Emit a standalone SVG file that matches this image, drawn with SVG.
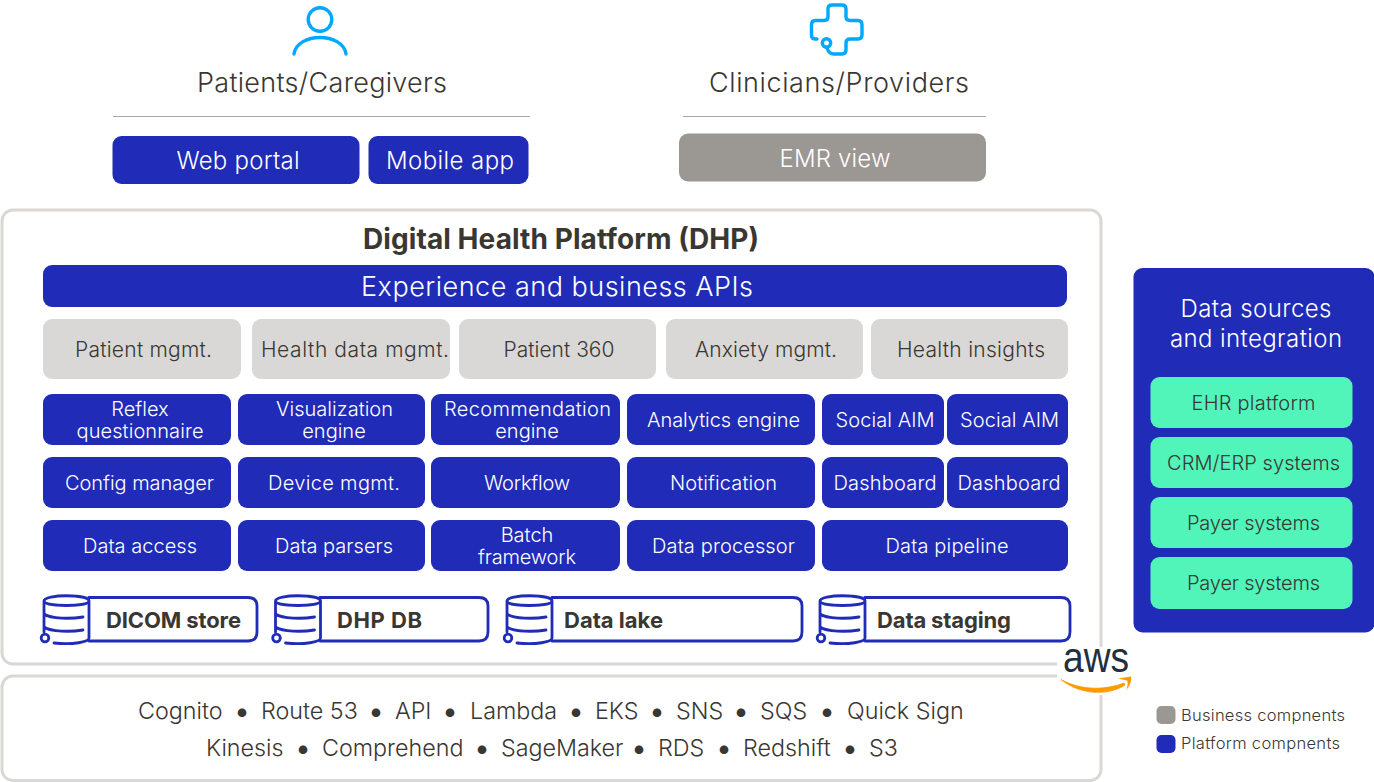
<svg xmlns="http://www.w3.org/2000/svg" width="1374" height="782" viewBox="0 0 1374 782">
<style>
text{font-family:"Inter","Liberation Sans",sans-serif;text-anchor:middle;font-size:20px;font-weight:350}
.b{fill:#202bb8}.g{fill:#9b9793}.l{fill:#d9d8d6}.m{fill:#52f5b9}
.w{fill:#fff}
.t{fill:#fff}.dk{fill:#3a3632}
.h{fill:#3a3632;font-size:27px}
.s{fill:#3a3632;font-size:23.300px;text-anchor:start}
.bu{text-anchor:middle;font-size:32px}
.bold{fill:#3a3632;font-weight:700;font-size:22px;text-anchor:start}
.fr{fill:#fff;stroke:#d9d8d6;stroke-width:3}
.ic{fill:none;stroke:#00a8ff;stroke-width:3.400;stroke-linecap:round;stroke-linejoin:round}
.db{fill:none;stroke:#202bb8;stroke-width:2.800;stroke-linecap:round}
.rule{stroke:#a9a6a3;stroke-width:1.200}
</style>
<defs>
<g id="cyl">
<path class="db" d="M1 6C1 -1 46 -1 46 6C46 12 1 12 1 6V37M46 6V43C46 47 30 50 11 48M1 19C8 24 28 24 40 22M1 32C8 37 28 37 40 35"/>
<circle class="db" cx="2" cy="43" r="3.800"/>
</g>
</defs>
<g id="connectors"></g>
<g id="patients">
<circle class="ic" cx="320" cy="19.500" r="11.800"/>
<path class="ic" d="M294 54C297 32 343 32 346 54"/>
<text class="h" x="322" y="92" textLength="250">Patients/Caregivers</text>
<line class="rule" x1="113" y1="116.500" x2="530" y2="116.500"/>
</g>
<g id="clinicians">
<path class="ic" d="M817 39H815Q811.500 39 811.500 35V25Q811.500 20.500 815 20.500H824Q828 20.500 828 17V8.500Q828 5 832 5H842Q846 5 846 9V17Q846 20.500 850 20.500H858Q862 20.500 862 25V35Q862 39 858 39H850Q846 39 846 43V50Q846 54 842 54H834Q829 54 827 48"/>
<circle class="ic" cx="826.500" cy="43" r="4.200"/>
<text class="h" x="839" y="92" textLength="260">Clinicians/Providers</text>
<line class="rule" x1="683" y1="116.500" x2="986" y2="116.500"/>
</g>
<g id="web-portal"><rect class="b" x="112.500" y="136" width="247" height="48" rx="9"/><text class="t" style="font-size:24px" x="238" y="169" textLength="123">Web portal</text></g>
<g id="mobile-app"><rect class="b" x="368.500" y="136" width="160" height="48" rx="9"/><text class="t" style="font-size:24px" x="450" y="169" textLength="128">Mobile app</text></g>
<g id="emr-view"><rect class="g" x="679" y="133.500" width="307" height="48" rx="9"/><text class="t" style="font-size:24px" x="835" y="167" textLength="111">EMR view</text></g>
<g id="dhp"><rect class="fr" x="2" y="210" width="1099" height="454" rx="11"/><text style="font-weight:700;font-size:28px;fill:#3a3632" x="561" y="248.500" textLength="396">Digital Health Platform (DHP)</text></g>
<g id="apis"><rect class="b" x="43" y="265" width="1024" height="42" rx="9"/><text class="t" style="font-size:27px" x="557" y="296" textLength="392">Experience and business APIs</text></g>
<g id="n-patient-mgmt"><rect class="l" x="43" y="319" width="198" height="60" rx="9"/><text class="dk" style="font-size:21px" x="143.500" y="357" textLength="137">Patient mgmt.</text></g>
<g id="n-health-data"><rect class="l" x="252" y="319" width="198" height="60" rx="9"/><text class="dk" style="font-size:21px" x="355" y="357" textLength="188">Health data mgmt.</text></g>
<g id="n-patient-360"><rect class="l" x="459" y="319" width="197" height="60" rx="9"/><text class="dk" style="font-size:21px" x="559" y="357" textLength="111">Patient 360</text></g>
<g id="n-anxiety"><rect class="l" x="666" y="319" width="197" height="60" rx="9"/><text class="dk" style="font-size:21px" x="766" y="357" textLength="142">Anxiety mgmt.</text></g>
<g id="n-insights"><rect class="l" x="871" y="319" width="197" height="60" rx="9"/><text class="dk" style="font-size:21px" x="971" y="357" textLength="148">Health insights</text></g>
<g id="n-reflex"><rect class="b" x="43" y="394" width="188" height="51" rx="9"/><text class="t" x="140" y="416">Reflex</text><text class="t" x="140" y="438" textLength="127">questionnaire</text></g>
<g id="n-viz"><rect class="b" x="238" y="394" width="187" height="51" rx="9"/><text class="t" x="334.500" y="416" textLength="117">Visualization</text><text class="t" x="334" y="438">engine</text></g>
<g id="n-rec"><rect class="b" x="431" y="394" width="189" height="51" rx="9"/><text class="t" x="527.500" y="416" textLength="167">Recommendation</text><text class="t" x="527" y="438">engine</text></g>
<g id="n-analytics"><rect class="b" x="627" y="394" width="188" height="51" rx="9"/><text class="t" x="723.500" y="427" textLength="153">Analytics engine</text></g>
<g id="n-social1"><rect class="b" x="822" y="394" width="122" height="51" rx="9"/><text class="t" x="885" y="427" textLength="99">Social AIM</text></g>
<g id="n-social2"><rect class="b" x="947" y="394" width="121" height="51" rx="9"/><text class="t" x="1009.500" y="427" textLength="99">Social AIM</text></g>
<g id="n-config"><rect class="b" x="43" y="457" width="188" height="51" rx="9"/><text class="t" x="139.500" y="490" textLength="149">Config manager</text></g>
<g id="n-device"><rect class="b" x="238" y="457" width="187" height="51" rx="9"/><text class="t" x="334" y="490" textLength="132">Device mgmt.</text></g>
<g id="n-workflow"><rect class="b" x="431" y="457" width="189" height="51" rx="9"/><text class="t" x="527" y="490" textLength="86">Workflow</text></g>
<g id="n-notification"><rect class="b" x="627" y="457" width="188" height="51" rx="9"/><text class="t" x="723.500" y="490" textLength="107">Notification</text></g>
<g id="n-dash1"><rect class="b" x="822" y="457" width="122" height="51" rx="9"/><text class="t" x="885" y="490" textLength="103">Dashboard</text></g>
<g id="n-dash2"><rect class="b" x="947" y="457" width="121" height="51" rx="9"/><text class="t" x="1009" y="490" textLength="103">Dashboard</text></g>
<g id="n-access"><rect class="b" x="43" y="520" width="188" height="51" rx="9"/><text class="t" x="140" y="553" textLength="114">Data access</text></g>
<g id="n-parsers"><rect class="b" x="238" y="520" width="187" height="51" rx="9"/><text class="t" x="334" y="553" textLength="118">Data parsers</text></g>
<g id="n-batch"><rect class="b" x="431" y="520" width="189" height="51" rx="9"/><text class="t" x="527" y="542">Batch</text><text class="t" x="527" y="564" textLength="98">framework</text></g>
<g id="n-processor"><rect class="b" x="627" y="520" width="188" height="51" rx="9"/><text class="t" x="723.500" y="553" textLength="143">Data processor</text></g>
<g id="n-pipeline"><rect class="b" x="822" y="520" width="246" height="51" rx="9"/><text class="t" x="947" y="553" textLength="123">Data pipeline</text></g>
<g id="s-dicom"><path class="db" d="M89 597.500H248Q257 597.500 257 606V632Q257 641 248 641H89"/><use href="#cyl" transform="translate(43 595)"/><text class="bold" x="106" y="628" textLength="135">DICOM store</text></g>
<g id="s-dhp"><path class="db" d="M320 597.500H479Q488 597.500 488 606V632Q488 641 479 641H320"/><use href="#cyl" transform="translate(274.500 595)"/><text class="bold" x="337" y="628" textLength="85">DHP DB</text></g>
<g id="s-lake"><path class="db" d="M552 597.500H793Q802 597.500 802 606V632Q802 641 793 641H552"/><use href="#cyl" transform="translate(506 595)"/><text class="bold" x="564" y="628" textLength="99">Data lake</text></g>
<g id="s-staging"><path class="db" d="M865 597.500H1061Q1070 597.500 1070 606V632Q1070 641 1061 641H865"/><use href="#cyl" transform="translate(819 595)"/><text class="bold" x="877" y="628" textLength="134">Data staging</text></g>
<g id="aws-services"><rect class="fr" x="2" y="676" width="1099" height="104.500" rx="11"/>
<text class="s"><tspan x="138" y="719">Cognito</tspan><tspan class="bu" x="242" y="722">•</tspan><tspan x="261" y="719">Route 53</tspan><tspan class="bu" x="376" y="722">•</tspan><tspan x="395" y="719">API</tspan><tspan class="bu" x="450" y="722">•</tspan><tspan x="470" y="719">Lambda</tspan><tspan class="bu" x="576" y="722">•</tspan><tspan x="595" y="719">EKS</tspan><tspan class="bu" x="657" y="722">•</tspan><tspan x="676" y="719">SNS</tspan><tspan class="bu" x="741" y="722">•</tspan><tspan x="760" y="719">SQS</tspan><tspan class="bu" x="827" y="722">•</tspan><tspan x="847" y="719">Quick Sign</tspan></text>
<text class="s"><tspan x="206" y="756">Kinesis</tspan><tspan class="bu" x="303" y="759">•</tspan><tspan x="322" y="756">Comprehend</tspan><tspan class="bu" x="482" y="759">•</tspan><tspan x="501" y="756">SageMaker</tspan><tspan class="bu" x="639" y="759">•</tspan><tspan x="658" y="756">RDS</tspan><tspan class="bu" x="724" y="759">•</tspan><tspan x="743" y="756">Redshift</tspan><tspan class="bu" x="850" y="759">•</tspan><tspan x="869" y="756">S3</tspan></text></g>
<g id="aws-logo"><rect class="w" x="1057" y="647" width="78" height="48"/>
<text style="font-family:'Liberation Sans',sans-serif;font-size:42px;fill:#232f3e;text-anchor:start;font-weight:400" x="1063" y="672" textLength="66" lengthAdjust="spacingAndGlyphs">aws</text>
<path d="M1061 679.500C1080 695 1108 696 1125 685L1124 683C1106 690 1082 691 1061 679.500Z" fill="#ff9900" stroke="#ff9900" stroke-width="0.800"/>
<path d="M1118 678.500L1131 676.500C1132 680 1130 686 1126 690C1128 686 1128 682 1127 680.500Z" fill="#ff9900"/></g>
<g id="data-sources"><rect class="b" x="1133.500" y="268" width="241" height="364.500" rx="9"/>
<text class="t" style="font-size:24px" x="1256" y="317" textLength="151">Data sources</text><text class="t" style="font-size:24px" x="1256" y="347" textLength="172">and integration</text></g>
<g id="src-ehr"><rect class="m" x="1150.500" y="377" width="202" height="51" rx="9"/><text class="dk" x="1253.500" y="410" textLength="124">EHR platform</text></g>
<g id="src-crm"><rect class="m" x="1150.500" y="437" width="202" height="51" rx="9"/><text class="dk" x="1253.500" y="470" textLength="173">CRM/ERP systems</text></g>
<g id="src-payer1"><rect class="m" x="1150.500" y="497" width="202" height="51" rx="9"/><text class="dk" x="1253.500" y="530" textLength="133">Payer systems</text></g>
<g id="src-payer2"><rect class="m" x="1150.500" y="557" width="202" height="52" rx="9"/><text class="dk" x="1253.500" y="590" textLength="133">Payer systems</text></g>
<g id="legend-business"><rect class="g" x="1156.500" y="706" width="19" height="18" rx="5"/><text class="dk" style="font-size:16.500px;text-anchor:start" x="1181" y="721" textLength="164">Business compnents</text></g>
<g id="legend-platform"><rect class="b" x="1156.500" y="735" width="19" height="18" rx="5"/><text class="dk" style="font-size:16.500px;text-anchor:start" x="1181" y="749" textLength="159">Platform compnents</text></g>
</svg>
